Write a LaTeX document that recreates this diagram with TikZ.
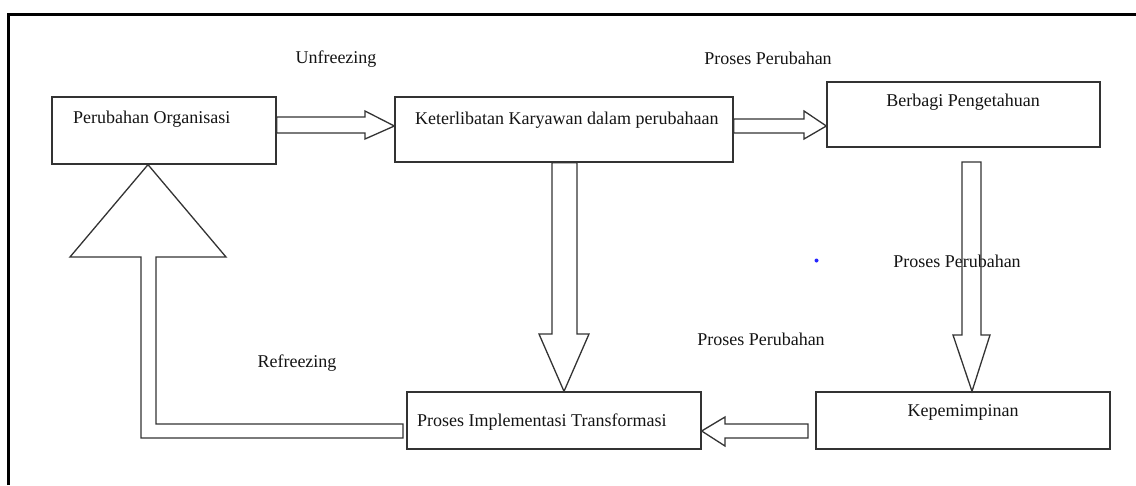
\documentclass[tikz,border=0pt]{standalone}
\usepackage{fontspec}
\setmainfont{Liberation Serif}
\usetikzlibrary{calc}
\begin{document}
\begin{tikzpicture}[x=1pt,y=-1pt,
  box/.style={draw=black!80, line width=1.3pt, rectangle, inner sep=0pt, fill=white},
  blockarrow/.style={draw=black!80, line width=1.3pt, line join=miter, fill=white},
  txt/.style={inner sep=0pt, text=black!92, font=\fontsize{18pt}{20pt}\selectfont},
  frame/.style={line width=3pt, black}]
\useasboundingbox (0,0) rectangle (1136,485);
\draw[frame] (8.5,485) -- (8.5,14.5) -- (1136,14.5);

% boxes
\node[box, minimum width=224pt, minimum height=67pt] (po) at (164,130.5) {};
\node[box, minimum width=338pt, minimum height=65pt] (kk) at (564,129.5) {};
\node[box, minimum width=273pt, minimum height=65pt] (bp) at (963.5,114.5) {};
\node[box, minimum width=294pt, minimum height=57pt] (pit) at (554,420.5) {};
\node[box, minimum width=294pt, minimum height=57pt] (kp) at (963,420.5) {};

% box texts
\node[txt, anchor=west] (tpo) at (73,119) {Perubahan Organisasi};
\node[txt, anchor=west] (tkk) at (415,120) {Keterlibatan Karyawan dalam perubahaan};
\node[txt] (tbp) at (963,102) {Berbagi Pengetahuan};
\node[txt, anchor=west] (tpit) at (417,422) {Proses Implementasi Transformasi};
\node[txt] (tkp) at (963,412) {Kepemimpinan};

% labels
\node[txt] (lu) at (336,59) {Unfreezing};
\node[txt] (lp1) at (768,58) {Proses Perubahan};
\node[txt] (lp2) at (957,261) {Proses Perubahan};
\node[txt] (lp3) at (761,339) {Proses Perubahan};
\node[txt] (lr) at (297,363) {Refreezing};

% block arrows
\draw[blockarrow] (po.east |- 0,117) -- (365,117) -- (365,111) -- (kk.west |- 0,126) -- (365,139) -- (365,133) -- (po.east |- 0,133) -- cycle;
\draw[blockarrow] (kk.east |- 0,119) -- (804,119) -- (804,111) -- (bp.west |- 0,126) -- (804,139) -- (804,133) -- (kk.east |- 0,133) -- cycle;
\draw[blockarrow] (552,0 |- kk.south) -- (552,334) -- (539,334) -- (564,0 |- pit.north) -- (589,334) -- (577,334) -- (577,0 |- kk.south) -- cycle;
\draw[draw=black!80, line width=1.3pt, line join=miter] (962,162) -- (962,335) -- (953,335) -- (972,0 |- kp.north) -- (990,335) -- (981,335) -- (981,162) -- cycle;
\draw[blockarrow] (808,424) -- (725,424) -- (725,417) -- (pit.east |- 0,431) -- (725,446) -- (725,438) -- (808,438) -- cycle;
\draw[blockarrow] (403,424) -- (156,424) -- (156,257) -- (226,257) -- (148,0 |- po.south) -- (70,257) -- (141,257) -- (141,438) -- (403,438) -- cycle;

% stray dot
\fill[blue!85] (816.5,260.5) circle (2pt);
\end{tikzpicture}
\end{document}
